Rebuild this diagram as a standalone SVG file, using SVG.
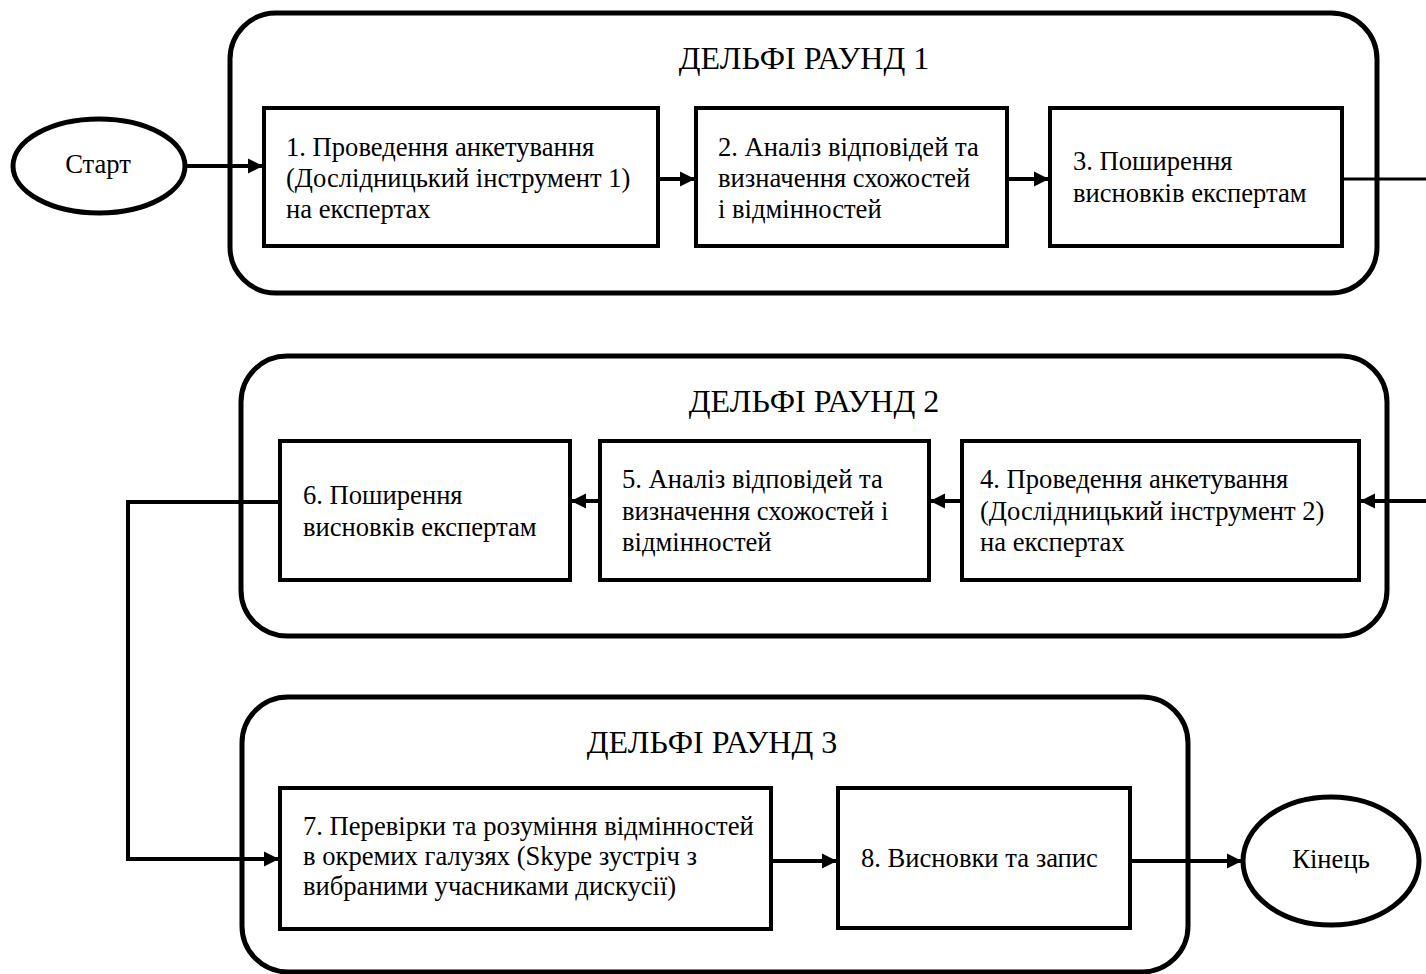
<svg xmlns="http://www.w3.org/2000/svg" width="1426" height="974" viewBox="0 0 1426 974">
<defs>
<marker id="ah" markerWidth="16" markerHeight="16" viewBox="0 0 16 16" refX="15" refY="8" orient="auto" markerUnits="userSpaceOnUse">
<path d="M0,0.5 L15,8 L0,15.5 Z" fill="#000"/>
</marker>
<style>
.cont{fill:none;stroke:#000;stroke-width:5}
.box{fill:#fff;stroke:#000;stroke-width:4}
.ell{fill:#fff;stroke:#000;stroke-width:5}
.ln{fill:none;stroke:#000;stroke-width:4}
.t{font-family:"Liberation Serif","Times New Roman",serif;font-size:26.6px;fill:#000}
.h{font-family:"Liberation Serif","Times New Roman",serif;font-size:32px;fill:#000}
.c{text-anchor:middle}
</style>
</defs>
<rect width="1426" height="974" fill="#fff"/>
<g id="round1">
<rect class="cont" x="230" y="13" width="1147" height="280" rx="46"/>
<text class="h c" x="804" y="69">ДЕЛЬФІ РАУНД 1</text>
</g>
<g id="round2">
<rect class="cont" x="241" y="356" width="1146" height="280" rx="46"/>
<text class="h c" x="814" y="412">ДЕЛЬФІ РАУНД 2</text>
</g>
<g id="round3">
<rect class="cont" x="242" y="697" width="946" height="275" rx="46"/>
<text class="h c" x="712" y="753">ДЕЛЬФІ РАУНД 3</text>
</g>
<g id="connectors">
<line class="ln" x1="185" y1="166" x2="263" y2="166" marker-end="url(#ah)"/>
<line class="ln" x1="658" y1="179" x2="695" y2="179" marker-end="url(#ah)"/>
<line class="ln" x1="1007" y1="179" x2="1049" y2="179" marker-end="url(#ah)"/>
<line class="ln" x1="1342" y1="179" x2="1426" y2="179" style="stroke-width:3"/>
<line class="ln" x1="1426" y1="501" x2="1360" y2="501" marker-end="url(#ah)"/>
<line class="ln" x1="962" y1="501" x2="930" y2="501" marker-end="url(#ah)"/>
<line class="ln" x1="600" y1="501" x2="571" y2="501" marker-end="url(#ah)"/>
<polyline class="ln" points="280,502 128,502 128,859 279,859" marker-end="url(#ah)"/>
<line class="ln" x1="771" y1="861" x2="837" y2="861" marker-end="url(#ah)"/>
<line class="ln" x1="1130" y1="861" x2="1242" y2="861" marker-end="url(#ah)"/>
</g>
<g id="start">
<ellipse class="ell" cx="99" cy="166" rx="86" ry="47"/>
<text class="t c" x="98" y="173">Старт</text>
</g>
<g id="end">
<ellipse class="ell" cx="1331" cy="861" rx="88" ry="64"/>
<text class="t c" x="1331" y="868">Кінець</text>
</g>
<g id="n1">
<rect class="box" x="264" y="108" width="394" height="138"/>
<text class="t" x="286" y="156">1. Проведення анкетування</text>
<text class="t" x="286" y="187">(Дослідницький інструмент 1)</text>
<text class="t" x="286" y="218">на експертах</text>
</g>
<g id="n2">
<rect class="box" x="696" y="108" width="311" height="138"/>
<text class="t" x="718" y="156">2. Аналіз відповідей та</text>
<text class="t" x="718" y="187">визначення схожостей</text>
<text class="t" x="718" y="218">і відмінностей</text>
</g>
<g id="n3">
<rect class="box" x="1050" y="108" width="292" height="138"/>
<text class="t" x="1073" y="170">3. Поширення</text>
<text class="t" x="1073" y="202">висновків експертам</text>
</g>
<g id="n4">
<rect class="box" x="962" y="441" width="397" height="139"/>
<text class="t" x="980" y="488">4. Проведення анкетування</text>
<text class="t" x="980" y="520">(Дослідницький інструмент 2)</text>
<text class="t" x="980" y="551">на експертах</text>
</g>
<g id="n5">
<rect class="box" x="600" y="441" width="329" height="139"/>
<text class="t" x="622" y="488">5. Аналіз відповідей та</text>
<text class="t" x="622" y="520">визначення схожостей і</text>
<text class="t" x="622" y="551">відмінностей</text>
</g>
<g id="n6">
<rect class="box" x="280" y="441" width="290" height="139"/>
<text class="t" x="303" y="504">6. Поширення</text>
<text class="t" x="303" y="536">висновків експертам</text>
</g>
<g id="n7">
<rect class="box" x="280" y="788" width="491" height="141"/>
<text class="t" x="303" y="835">7. Перевірки та розуміння відмінностей</text>
<text class="t" x="303" y="865">в окремих галузях (Skype зустріч з</text>
<text class="t" x="303" y="895">вибраними учасниками дискусії)</text>
</g>
<g id="n8">
<rect class="box" x="838" y="788" width="292" height="140"/>
<text class="t" x="861" y="867">8. Висновки та запис</text>
</g>
</svg>
